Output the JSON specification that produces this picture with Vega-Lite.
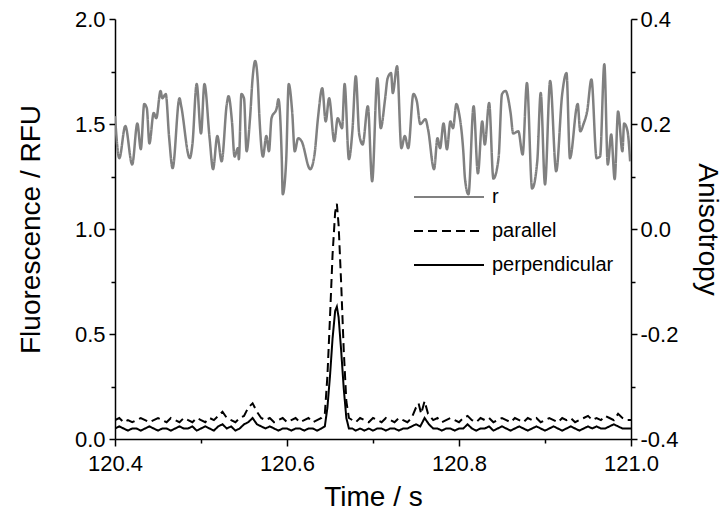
{
  "$schema": "https://vega.github.io/schema/vega-lite/v6.json",
  "width": 516,
  "height": 420,
  "autosize": {"type": "none"},
  "padding": {"left": 115, "top": 19, "right": 96, "bottom": 75},
  "config": {
    "view": {"stroke": null},
    "font": "Liberation Sans",
    "axis": {
      "grid": false,
      "domainColor": "#000000",
      "domainWidth": 1.5,
      "tickColor": "#000000",
      "tickWidth": 1.5,
      "labelColor": "#000000",
      "titleColor": "#000000",
      "labelFont": "Liberation Sans",
      "titleFont": "Liberation Sans",
      "labelFontSize": 22,
      "titleFontSize": 28,
      "titleFontWeight": "normal",
      "labelOverlap": false,
      "labelFlush": false
    }
  },
  "datasets": {
    "fluor": [
      {"t":120.400,"v":0.05,"s":"perpendicular"},{"t":120.405,"v":0.06,"s":"perpendicular"},{"t":120.410,"v":0.05,"s":"perpendicular"},{"t":120.415,"v":0.04,"s":"perpendicular"},{"t":120.420,"v":0.05,"s":"perpendicular"},{"t":120.425,"v":0.05,"s":"perpendicular"},{"t":120.430,"v":0.04,"s":"perpendicular"},{"t":120.435,"v":0.05,"s":"perpendicular"},{"t":120.440,"v":0.06,"s":"perpendicular"},{"t":120.445,"v":0.05,"s":"perpendicular"},{"t":120.450,"v":0.04,"s":"perpendicular"},{"t":120.455,"v":0.05,"s":"perpendicular"},{"t":120.460,"v":0.05,"s":"perpendicular"},{"t":120.465,"v":0.04,"s":"perpendicular"},{"t":120.470,"v":0.05,"s":"perpendicular"},{"t":120.475,"v":0.06,"s":"perpendicular"},{"t":120.480,"v":0.05,"s":"perpendicular"},{"t":120.485,"v":0.05,"s":"perpendicular"},{"t":120.490,"v":0.06,"s":"perpendicular"},{"t":120.495,"v":0.04,"s":"perpendicular"},{"t":120.500,"v":0.05,"s":"perpendicular"},{"t":120.505,"v":0.06,"s":"perpendicular"},{"t":120.510,"v":0.05,"s":"perpendicular"},{"t":120.515,"v":0.04,"s":"perpendicular"},{"t":120.520,"v":0.06,"s":"perpendicular"},{"t":120.525,"v":0.07,"s":"perpendicular"},{"t":120.530,"v":0.05,"s":"perpendicular"},{"t":120.535,"v":0.06,"s":"perpendicular"},{"t":120.540,"v":0.04,"s":"perpendicular"},{"t":120.545,"v":0.05,"s":"perpendicular"},{"t":120.550,"v":0.07,"s":"perpendicular"},{"t":120.555,"v":0.08,"s":"perpendicular"},{"t":120.560,"v":0.10,"s":"perpendicular"},{"t":120.565,"v":0.07,"s":"perpendicular"},{"t":120.570,"v":0.06,"s":"perpendicular"},{"t":120.575,"v":0.05,"s":"perpendicular"},{"t":120.580,"v":0.06,"s":"perpendicular"},{"t":120.585,"v":0.05,"s":"perpendicular"},{"t":120.590,"v":0.04,"s":"perpendicular"},{"t":120.595,"v":0.05,"s":"perpendicular"},{"t":120.600,"v":0.05,"s":"perpendicular"},{"t":120.605,"v":0.04,"s":"perpendicular"},{"t":120.610,"v":0.05,"s":"perpendicular"},{"t":120.615,"v":0.05,"s":"perpendicular"},{"t":120.620,"v":0.04,"s":"perpendicular"},{"t":120.625,"v":0.05,"s":"perpendicular"},{"t":120.630,"v":0.05,"s":"perpendicular"},{"t":120.635,"v":0.04,"s":"perpendicular"},{"t":120.640,"v":0.05,"s":"perpendicular"},{"t":120.644,"v":0.06,"s":"perpendicular"},{"t":120.647,"v":0.15,"s":"perpendicular"},{"t":120.650,"v":0.30,"s":"perpendicular"},{"t":120.653,"v":0.48,"s":"perpendicular"},{"t":120.656,"v":0.61,"s":"perpendicular"},{"t":120.658,"v":0.63,"s":"perpendicular"},{"t":120.660,"v":0.58,"s":"perpendicular"},{"t":120.663,"v":0.42,"s":"perpendicular"},{"t":120.666,"v":0.24,"s":"perpendicular"},{"t":120.669,"v":0.10,"s":"perpendicular"},{"t":120.672,"v":0.05,"s":"perpendicular"},{"t":120.676,"v":0.05,"s":"perpendicular"},{"t":120.680,"v":0.04,"s":"perpendicular"},{"t":120.685,"v":0.05,"s":"perpendicular"},{"t":120.690,"v":0.04,"s":"perpendicular"},{"t":120.695,"v":0.05,"s":"perpendicular"},{"t":120.700,"v":0.04,"s":"perpendicular"},{"t":120.705,"v":0.05,"s":"perpendicular"},{"t":120.710,"v":0.05,"s":"perpendicular"},{"t":120.715,"v":0.04,"s":"perpendicular"},{"t":120.720,"v":0.05,"s":"perpendicular"},{"t":120.725,"v":0.05,"s":"perpendicular"},{"t":120.730,"v":0.04,"s":"perpendicular"},{"t":120.735,"v":0.05,"s":"perpendicular"},{"t":120.740,"v":0.05,"s":"perpendicular"},{"t":120.745,"v":0.06,"s":"perpendicular"},{"t":120.750,"v":0.07,"s":"perpendicular"},{"t":120.755,"v":0.06,"s":"perpendicular"},{"t":120.760,"v":0.10,"s":"perpendicular"},{"t":120.765,"v":0.07,"s":"perpendicular"},{"t":120.770,"v":0.05,"s":"perpendicular"},{"t":120.775,"v":0.05,"s":"perpendicular"},{"t":120.780,"v":0.04,"s":"perpendicular"},{"t":120.785,"v":0.05,"s":"perpendicular"},{"t":120.790,"v":0.05,"s":"perpendicular"},{"t":120.795,"v":0.04,"s":"perpendicular"},{"t":120.800,"v":0.05,"s":"perpendicular"},{"t":120.805,"v":0.05,"s":"perpendicular"},{"t":120.810,"v":0.07,"s":"perpendicular"},{"t":120.815,"v":0.05,"s":"perpendicular"},{"t":120.820,"v":0.04,"s":"perpendicular"},{"t":120.825,"v":0.05,"s":"perpendicular"},{"t":120.830,"v":0.05,"s":"perpendicular"},{"t":120.835,"v":0.06,"s":"perpendicular"},{"t":120.840,"v":0.04,"s":"perpendicular"},{"t":120.845,"v":0.05,"s":"perpendicular"},{"t":120.850,"v":0.06,"s":"perpendicular"},{"t":120.855,"v":0.05,"s":"perpendicular"},{"t":120.860,"v":0.04,"s":"perpendicular"},{"t":120.865,"v":0.05,"s":"perpendicular"},{"t":120.870,"v":0.06,"s":"perpendicular"},{"t":120.875,"v":0.05,"s":"perpendicular"},{"t":120.880,"v":0.04,"s":"perpendicular"},{"t":120.885,"v":0.05,"s":"perpendicular"},{"t":120.890,"v":0.06,"s":"perpendicular"},{"t":120.895,"v":0.05,"s":"perpendicular"},{"t":120.900,"v":0.04,"s":"perpendicular"},{"t":120.905,"v":0.05,"s":"perpendicular"},{"t":120.910,"v":0.06,"s":"perpendicular"},{"t":120.915,"v":0.05,"s":"perpendicular"},{"t":120.920,"v":0.04,"s":"perpendicular"},{"t":120.925,"v":0.05,"s":"perpendicular"},{"t":120.930,"v":0.06,"s":"perpendicular"},{"t":120.935,"v":0.05,"s":"perpendicular"},{"t":120.940,"v":0.04,"s":"perpendicular"},{"t":120.945,"v":0.05,"s":"perpendicular"},{"t":120.950,"v":0.06,"s":"perpendicular"},{"t":120.955,"v":0.05,"s":"perpendicular"},{"t":120.960,"v":0.06,"s":"perpendicular"},{"t":120.965,"v":0.05,"s":"perpendicular"},{"t":120.970,"v":0.05,"s":"perpendicular"},{"t":120.975,"v":0.06,"s":"perpendicular"},{"t":120.980,"v":0.07,"s":"perpendicular"},{"t":120.985,"v":0.06,"s":"perpendicular"},{"t":120.990,"v":0.05,"s":"perpendicular"},{"t":120.995,"v":0.05,"s":"perpendicular"},{"t":121.000,"v":0.05,"s":"perpendicular"},
      {"t":120.400,"v":0.09,"s":"parallel"},{"t":120.405,"v":0.10,"s":"parallel"},{"t":120.410,"v":0.08,"s":"parallel"},{"t":120.415,"v":0.09,"s":"parallel"},{"t":120.420,"v":0.08,"s":"parallel"},{"t":120.425,"v":0.09,"s":"parallel"},{"t":120.430,"v":0.10,"s":"parallel"},{"t":120.435,"v":0.09,"s":"parallel"},{"t":120.440,"v":0.08,"s":"parallel"},{"t":120.445,"v":0.09,"s":"parallel"},{"t":120.450,"v":0.10,"s":"parallel"},{"t":120.455,"v":0.09,"s":"parallel"},{"t":120.460,"v":0.08,"s":"parallel"},{"t":120.465,"v":0.10,"s":"parallel"},{"t":120.470,"v":0.09,"s":"parallel"},{"t":120.475,"v":0.08,"s":"parallel"},{"t":120.480,"v":0.10,"s":"parallel"},{"t":120.485,"v":0.09,"s":"parallel"},{"t":120.490,"v":0.08,"s":"parallel"},{"t":120.495,"v":0.10,"s":"parallel"},{"t":120.500,"v":0.09,"s":"parallel"},{"t":120.505,"v":0.08,"s":"parallel"},{"t":120.510,"v":0.10,"s":"parallel"},{"t":120.515,"v":0.09,"s":"parallel"},{"t":120.520,"v":0.11,"s":"parallel"},{"t":120.525,"v":0.13,"s":"parallel"},{"t":120.530,"v":0.10,"s":"parallel"},{"t":120.535,"v":0.09,"s":"parallel"},{"t":120.540,"v":0.08,"s":"parallel"},{"t":120.545,"v":0.10,"s":"parallel"},{"t":120.550,"v":0.11,"s":"parallel"},{"t":120.555,"v":0.15,"s":"parallel"},{"t":120.560,"v":0.17,"s":"parallel"},{"t":120.565,"v":0.13,"s":"parallel"},{"t":120.570,"v":0.10,"s":"parallel"},{"t":120.575,"v":0.09,"s":"parallel"},{"t":120.580,"v":0.10,"s":"parallel"},{"t":120.585,"v":0.08,"s":"parallel"},{"t":120.590,"v":0.09,"s":"parallel"},{"t":120.595,"v":0.10,"s":"parallel"},{"t":120.600,"v":0.08,"s":"parallel"},{"t":120.605,"v":0.09,"s":"parallel"},{"t":120.610,"v":0.10,"s":"parallel"},{"t":120.615,"v":0.08,"s":"parallel"},{"t":120.620,"v":0.09,"s":"parallel"},{"t":120.625,"v":0.10,"s":"parallel"},{"t":120.630,"v":0.08,"s":"parallel"},{"t":120.635,"v":0.09,"s":"parallel"},{"t":120.640,"v":0.10,"s":"parallel"},{"t":120.644,"v":0.12,"s":"parallel"},{"t":120.647,"v":0.30,"s":"parallel"},{"t":120.650,"v":0.58,"s":"parallel"},{"t":120.653,"v":0.88,"s":"parallel"},{"t":120.656,"v":1.08,"s":"parallel"},{"t":120.658,"v":1.12,"s":"parallel"},{"t":120.660,"v":1.02,"s":"parallel"},{"t":120.663,"v":0.74,"s":"parallel"},{"t":120.666,"v":0.42,"s":"parallel"},{"t":120.669,"v":0.18,"s":"parallel"},{"t":120.672,"v":0.10,"s":"parallel"},{"t":120.676,"v":0.09,"s":"parallel"},{"t":120.680,"v":0.08,"s":"parallel"},{"t":120.685,"v":0.10,"s":"parallel"},{"t":120.690,"v":0.09,"s":"parallel"},{"t":120.695,"v":0.08,"s":"parallel"},{"t":120.700,"v":0.10,"s":"parallel"},{"t":120.705,"v":0.09,"s":"parallel"},{"t":120.710,"v":0.08,"s":"parallel"},{"t":120.715,"v":0.10,"s":"parallel"},{"t":120.720,"v":0.09,"s":"parallel"},{"t":120.725,"v":0.08,"s":"parallel"},{"t":120.730,"v":0.10,"s":"parallel"},{"t":120.735,"v":0.09,"s":"parallel"},{"t":120.740,"v":0.08,"s":"parallel"},{"t":120.745,"v":0.10,"s":"parallel"},{"t":120.750,"v":0.15,"s":"parallel"},{"t":120.753,"v":0.17,"s":"parallel"},{"t":120.756,"v":0.12,"s":"parallel"},{"t":120.760,"v":0.18,"s":"parallel"},{"t":120.764,"v":0.12,"s":"parallel"},{"t":120.770,"v":0.09,"s":"parallel"},{"t":120.775,"v":0.10,"s":"parallel"},{"t":120.780,"v":0.08,"s":"parallel"},{"t":120.785,"v":0.09,"s":"parallel"},{"t":120.790,"v":0.10,"s":"parallel"},{"t":120.795,"v":0.09,"s":"parallel"},{"t":120.800,"v":0.08,"s":"parallel"},{"t":120.805,"v":0.10,"s":"parallel"},{"t":120.810,"v":0.11,"s":"parallel"},{"t":120.815,"v":0.09,"s":"parallel"},{"t":120.820,"v":0.08,"s":"parallel"},{"t":120.825,"v":0.10,"s":"parallel"},{"t":120.830,"v":0.09,"s":"parallel"},{"t":120.835,"v":0.10,"s":"parallel"},{"t":120.840,"v":0.08,"s":"parallel"},{"t":120.845,"v":0.09,"s":"parallel"},{"t":120.850,"v":0.10,"s":"parallel"},{"t":120.855,"v":0.09,"s":"parallel"},{"t":120.860,"v":0.08,"s":"parallel"},{"t":120.865,"v":0.10,"s":"parallel"},{"t":120.870,"v":0.09,"s":"parallel"},{"t":120.875,"v":0.08,"s":"parallel"},{"t":120.880,"v":0.10,"s":"parallel"},{"t":120.885,"v":0.09,"s":"parallel"},{"t":120.890,"v":0.10,"s":"parallel"},{"t":120.895,"v":0.08,"s":"parallel"},{"t":120.900,"v":0.09,"s":"parallel"},{"t":120.905,"v":0.10,"s":"parallel"},{"t":120.910,"v":0.09,"s":"parallel"},{"t":120.915,"v":0.08,"s":"parallel"},{"t":120.920,"v":0.10,"s":"parallel"},{"t":120.925,"v":0.09,"s":"parallel"},{"t":120.930,"v":0.10,"s":"parallel"},{"t":120.935,"v":0.08,"s":"parallel"},{"t":120.940,"v":0.09,"s":"parallel"},{"t":120.945,"v":0.10,"s":"parallel"},{"t":120.950,"v":0.11,"s":"parallel"},{"t":120.955,"v":0.09,"s":"parallel"},{"t":120.960,"v":0.10,"s":"parallel"},{"t":120.965,"v":0.09,"s":"parallel"},{"t":120.970,"v":0.11,"s":"parallel"},{"t":120.975,"v":0.10,"s":"parallel"},{"t":120.980,"v":0.09,"s":"parallel"},{"t":120.985,"v":0.12,"s":"parallel"},{"t":120.990,"v":0.10,"s":"parallel"},{"t":120.995,"v":0.09,"s":"parallel"},{"t":121.000,"v":0.09,"s":"parallel"}
    ],
    "aniso": [
      {"t":120.400,"v":0.215,"s":"r"},{"t":120.405,"v":0.135,"s":"r"},{"t":120.412,"v":0.196,"s":"r"},{"t":120.420,"v":0.123,"s":"r"},{"t":120.426,"v":0.201,"s":"r"},{"t":120.430,"v":0.152,"s":"r"},{"t":120.434,"v":0.238,"s":"r"},{"t":120.437,"v":0.230,"s":"r"},{"t":120.440,"v":0.163,"s":"r"},{"t":120.445,"v":0.221,"s":"r"},{"t":120.448,"v":0.211,"s":"r"},{"t":120.453,"v":0.263,"s":"r"},{"t":120.455,"v":0.249,"s":"r"},{"t":120.459,"v":0.257,"s":"r"},{"t":120.463,"v":0.173,"s":"r"},{"t":120.467,"v":0.116,"s":"r"},{"t":120.475,"v":0.249,"s":"r"},{"t":120.477,"v":0.234,"s":"r"},{"t":120.487,"v":0.135,"s":"r"},{"t":120.490,"v":0.161,"s":"r"},{"t":120.495,"v":0.276,"s":"r"},{"t":120.500,"v":0.182,"s":"r"},{"t":120.504,"v":0.276,"s":"r"},{"t":120.510,"v":0.173,"s":"r"},{"t":120.514,"v":0.114,"s":"r"},{"t":120.519,"v":0.177,"s":"r"},{"t":120.524,"v":0.129,"s":"r"},{"t":120.530,"v":0.238,"s":"r"},{"t":120.532,"v":0.253,"s":"r"},{"t":120.536,"v":0.205,"s":"r"},{"t":120.539,"v":0.138,"s":"r"},{"t":120.543,"v":0.154,"s":"r"},{"t":120.544,"v":0.133,"s":"r"},{"t":120.547,"v":0.257,"s":"r"},{"t":120.550,"v":0.249,"s":"r"},{"t":120.553,"v":0.148,"s":"r"},{"t":120.557,"v":0.211,"s":"r"},{"t":120.560,"v":0.287,"s":"r"},{"t":120.563,"v":0.320,"s":"r"},{"t":120.566,"v":0.282,"s":"r"},{"t":120.568,"v":0.211,"s":"r"},{"t":120.572,"v":0.138,"s":"r"},{"t":120.576,"v":0.177,"s":"r"},{"t":120.579,"v":0.148,"s":"r"},{"t":120.582,"v":0.211,"s":"r"},{"t":120.588,"v":0.230,"s":"r"},{"t":120.590,"v":0.247,"s":"r"},{"t":120.594,"v":0.129,"s":"r"},{"t":120.595,"v":0.066,"s":"r"},{"t":120.599,"v":0.129,"s":"r"},{"t":120.602,"v":0.276,"s":"r"},{"t":120.606,"v":0.224,"s":"r"},{"t":120.609,"v":0.148,"s":"r"},{"t":120.613,"v":0.173,"s":"r"},{"t":120.617,"v":0.167,"s":"r"},{"t":120.627,"v":0.114,"s":"r"},{"t":120.632,"v":0.142,"s":"r"},{"t":120.636,"v":0.211,"s":"r"},{"t":120.641,"v":0.268,"s":"r"},{"t":120.645,"v":0.205,"s":"r"},{"t":120.649,"v":0.249,"s":"r"},{"t":120.655,"v":0.167,"s":"r"},{"t":120.659,"v":0.211,"s":"r"},{"t":120.664,"v":0.192,"s":"r"},{"t":120.667,"v":0.276,"s":"r"},{"t":120.672,"v":0.133,"s":"r"},{"t":120.676,"v":0.186,"s":"r"},{"t":120.680,"v":0.291,"s":"r"},{"t":120.684,"v":0.180,"s":"r"},{"t":120.688,"v":0.161,"s":"r"},{"t":120.694,"v":0.234,"s":"r"},{"t":120.699,"v":0.091,"s":"r"},{"t":120.705,"v":0.287,"s":"r"},{"t":120.709,"v":0.192,"s":"r"},{"t":120.714,"v":0.247,"s":"r"},{"t":120.717,"v":0.287,"s":"r"},{"t":120.721,"v":0.297,"s":"r"},{"t":120.723,"v":0.259,"s":"r"},{"t":120.728,"v":0.310,"s":"r"},{"t":120.733,"v":0.154,"s":"r"},{"t":120.737,"v":0.177,"s":"r"},{"t":120.741,"v":0.154,"s":"r"},{"t":120.747,"v":0.257,"s":"r"},{"t":120.751,"v":0.243,"s":"r"},{"t":120.755,"v":0.200,"s":"r"},{"t":120.761,"v":0.209,"s":"r"},{"t":120.764,"v":0.190,"s":"r"},{"t":120.771,"v":0.114,"s":"r"},{"t":120.775,"v":0.173,"s":"r"},{"t":120.778,"v":0.154,"s":"r"},{"t":120.782,"v":0.201,"s":"r"},{"t":120.786,"v":0.152,"s":"r"},{"t":120.790,"v":0.205,"s":"r"},{"t":120.793,"v":0.192,"s":"r"},{"t":120.797,"v":0.238,"s":"r"},{"t":120.800,"v":0.221,"s":"r"},{"t":120.805,"v":0.148,"s":"r"},{"t":120.807,"v":0.095,"s":"r"},{"t":120.811,"v":0.066,"s":"r"},{"t":120.817,"v":0.234,"s":"r"},{"t":120.822,"v":0.106,"s":"r"},{"t":120.827,"v":0.205,"s":"r"},{"t":120.830,"v":0.161,"s":"r"},{"t":120.835,"v":0.240,"s":"r"},{"t":120.840,"v":0.096,"s":"r"},{"t":120.846,"v":0.135,"s":"r"},{"t":120.850,"v":0.257,"s":"r"},{"t":120.854,"v":0.263,"s":"r"},{"t":120.860,"v":0.221,"s":"r"},{"t":120.863,"v":0.182,"s":"r"},{"t":120.869,"v":0.186,"s":"r"},{"t":120.874,"v":0.142,"s":"r"},{"t":120.879,"v":0.278,"s":"r"},{"t":120.885,"v":0.077,"s":"r"},{"t":120.891,"v":0.129,"s":"r"},{"t":120.895,"v":0.259,"s":"r"},{"t":120.900,"v":0.085,"s":"r"},{"t":120.906,"v":0.282,"s":"r"},{"t":120.913,"v":0.110,"s":"r"},{"t":120.920,"v":0.257,"s":"r"},{"t":120.925,"v":0.297,"s":"r"},{"t":120.929,"v":0.135,"s":"r"},{"t":120.938,"v":0.238,"s":"r"},{"t":120.941,"v":0.186,"s":"r"},{"t":120.945,"v":0.201,"s":"r"},{"t":120.949,"v":0.224,"s":"r"},{"t":120.954,"v":0.285,"s":"r"},{"t":120.960,"v":0.135,"s":"r"},{"t":120.964,"v":0.138,"s":"r"},{"t":120.969,"v":0.314,"s":"r"},{"t":120.973,"v":0.123,"s":"r"},{"t":120.977,"v":0.180,"s":"r"},{"t":120.981,"v":0.095,"s":"r"},{"t":120.985,"v":0.224,"s":"r"},{"t":120.990,"v":0.148,"s":"r"},{"t":120.992,"v":0.201,"s":"r"},{"t":120.996,"v":0.186,"s":"r"},{"t":120.999,"v":0.129,"s":"r"}
    ]
  },
  "layer": [
    {
      "data": {"name": "aniso"},
      "mark": {"type": "line", "strokeWidth": 2.5, "clip": true, "interpolate": "monotone"},
      "encoding": {
        "x": {"field": "t", "type": "quantitative", "scale": {"domain": [120.4, 121.0], "nice": false, "zero": false},
          "axis": {"title": "Time / s", "values": [120.4, 120.5, 120.6, 120.7, 120.8, 120.9, 121.0],
            "labelExpr": "abs(datum.value*5-round(datum.value*5))<0.001 ? format(datum.value,'.1f') : ''",
            "tickSize": {"condition": {"test": "abs(datum.value*5-round(datum.value*5))<0.001", "value": 7}, "value": 4},
            "labelPadding": 7, "titlePadding": 9}},
        "y": {"field": "v", "type": "quantitative", "scale": {"domain": [-0.4, 0.4], "nice": false, "zero": false},
          "axis": {"orient": "right", "title": "Anisotropy", "values": [-0.4, -0.3, -0.2, -0.1, 0, 0.1, 0.2, 0.3, 0.4],
            "labelExpr": "abs(datum.value*5-round(datum.value*5))<0.001 ? replace(format(datum.value,'.1f'),'\u2212','-') : ''",
            "tickSize": {"condition": {"test": "abs(datum.value*5-round(datum.value*5))<0.001", "value": 6}, "value": 4},
            "labelPadding": 3, "titlePadding": 15}},
        "color": {"field": "s", "type": "nominal",
          "scale": {"domain": ["r", "parallel", "perpendicular"], "range": ["#808080", "#000000", "#000000"]},
          "legend": {"orient": "none", "legendX": 324, "legendY": 168, "title": null, "padding": 0,
            "symbolType": "M-5,0H5", "symbolSize": 196, "symbolStrokeWidth": 2, "labelFontSize": 20,
            "labelFont": "Liberation Sans", "labelColor": "#000000", "labelOffset": 33, "rowPadding": 14}},
        "strokeDash": {"field": "s", "type": "nominal",
          "scale": {"domain": ["r", "parallel", "perpendicular"], "range": [[1, 0], [9, 5], [1, 0]]},
          "legend": {"orient": "none", "legendX": 324, "legendY": 168, "title": null, "padding": 0,
            "symbolType": "M-5,0H5", "symbolSize": 196, "symbolStrokeWidth": 2, "labelFontSize": 20,
            "labelFont": "Liberation Sans", "labelColor": "#000000", "labelOffset": 33, "rowPadding": 14}}
      }
    },
    {
      "data": {"name": "fluor"},
      "mark": {"type": "line", "strokeWidth": 2, "clip": true},
      "encoding": {
        "x": {"field": "t", "type": "quantitative", "scale": {"domain": [120.4, 121.0], "nice": false, "zero": false},
          "axis": {"title": "Time / s", "values": [120.4, 120.5, 120.6, 120.7, 120.8, 120.9, 121.0],
            "labelExpr": "abs(datum.value*5-round(datum.value*5))<0.001 ? format(datum.value,'.1f') : ''",
            "tickSize": {"condition": {"test": "abs(datum.value*5-round(datum.value*5))<0.001", "value": 7}, "value": 4},
            "labelPadding": 7, "titlePadding": 9}},
        "y": {"field": "v", "type": "quantitative", "scale": {"domain": [0, 2], "nice": false},
          "axis": {"orient": "left", "title": "Fluorescence / RFU", "values": [0, 0.25, 0.5, 0.75, 1, 1.25, 1.5, 1.75, 2],
            "labelExpr": "abs(datum.value*2-round(datum.value*2))<0.001 ? format(datum.value,'.1f') : ''",
            "tickSize": {"condition": {"test": "abs(datum.value*2-round(datum.value*2))<0.001", "value": 6}, "value": 4},
            "labelPadding": 4, "titlePadding": 29}},
        "color": {"field": "s", "type": "nominal",
          "scale": {"domain": ["r", "parallel", "perpendicular"], "range": ["#808080", "#000000", "#000000"]},
          "legend": {"orient": "none", "legendX": 324, "legendY": 168, "title": null, "padding": 0,
            "symbolType": "M-5,0H5", "symbolSize": 196, "symbolStrokeWidth": 2, "labelFontSize": 20,
            "labelFont": "Liberation Sans", "labelColor": "#000000", "labelOffset": 33, "rowPadding": 14}},
        "strokeDash": {"field": "s", "type": "nominal",
          "scale": {"domain": ["r", "parallel", "perpendicular"], "range": [[1, 0], [9, 5], [1, 0]]},
          "legend": {"orient": "none", "legendX": 324, "legendY": 168, "title": null, "padding": 0,
            "symbolType": "M-5,0H5", "symbolSize": 196, "symbolStrokeWidth": 2, "labelFontSize": 20,
            "labelFont": "Liberation Sans", "labelColor": "#000000", "labelOffset": 33, "rowPadding": 14}}
      }
    }
  ],
  "resolve": {"scale": {"y": "independent"}}
}
